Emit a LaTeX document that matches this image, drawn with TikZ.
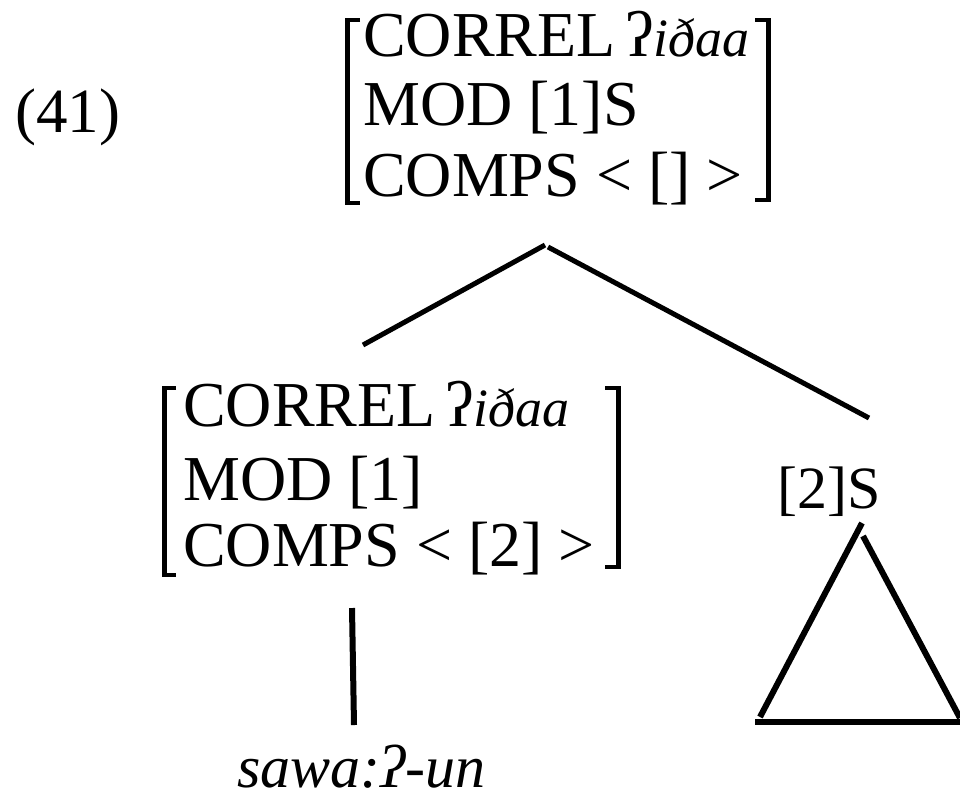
\documentclass[tikz,border=0pt]{standalone}
\usepackage{fontspec}
\setmainfont{Liberation Serif}
% the correlative form: glottal stop, then the italic stem
\newcommand{\corform}{ʔ{\fontsize{54}{60}\selectfont\itshape iðaa}}
\begin{document}
\begin{tikzpicture}[x=1pt,y=-1pt,
  avm/.style={anchor=base west,inner sep=0pt,font=\fontsize{64}{70}\selectfont},
  plain/.style={anchor=base west,inner sep=0pt,font=\fontsize{60}{66}\selectfont},
  brk/.style={line width=4.5pt,line cap=butt,line join=miter},
  branch/.style={line width=5pt},
  stem/.style={line width=6pt}]
\useasboundingbox (0,0) rectangle (960,801);

% example number
\node[plain,font=\fontsize{63}{70}\selectfont] (num) at (15,132) {(41)};

% mother feature structure
\node[avm] (m1) at (363,56)  {CORREL\hspace{0.15em}\corform};
\node[avm] (m2) at (363,125) {MOD [1]S};
\node[avm] (m3) at (363,196) {COMPS < [] >};
\draw[brk] (360,20) -- (347.5,20) -- (347.5,203) -- (360,203);
\draw[brk] (755,20) -- (768.5,20) -- (768.5,200) -- (755,200);

% head daughter feature structure
\node[avm] (h1) at (183,426) {CORREL\hspace{0.15em}\corform};
\node[avm] (h2) at (183,500) {MOD [1]};
\node[avm] (h3) at (183,566) {COMPS < [2] >};
\draw[brk] (176,388) -- (164.5,388) -- (164.5,575) -- (176,575);
\draw[brk] (605,388) -- (618.5,388) -- (618.5,567) -- (605,567);

% complement daughter and the lexical form
\node[plain] (comp) at (777,508) {[2]S};
\node[plain,font=\fontsize{60}{66}\selectfont\itshape] (word) at (237,787) {sawa:ʔ-un};

% branch end points
\coordinate (mL) at (545,245);
\coordinate (mR) at (548,247);
\coordinate (hTop) at (363,345);
\coordinate (cTop) at (869,418);
\coordinate (hFoot) at (352,608);
\coordinate (wTop) at (354,725);
\coordinate (apexL) at (862,523);
\coordinate (apexR) at (863,536);
\coordinate (baseL) at (760,717);
\coordinate (baseR) at (960,718);
\coordinate (floorL) at (755,722);
\coordinate (floorR) at (960,722);

\draw[branch] (mL) -- (hTop);
\draw[branch] (mR) -- (cTop);
\draw[stem] (hFoot) -- (wTop);

% triangle under the complement
\draw[stem] (apexL) -- (baseL);
\draw[stem] (apexR) -- (baseR);
\draw[stem] (floorL) -- (floorR);
\end{tikzpicture}
\end{document}
